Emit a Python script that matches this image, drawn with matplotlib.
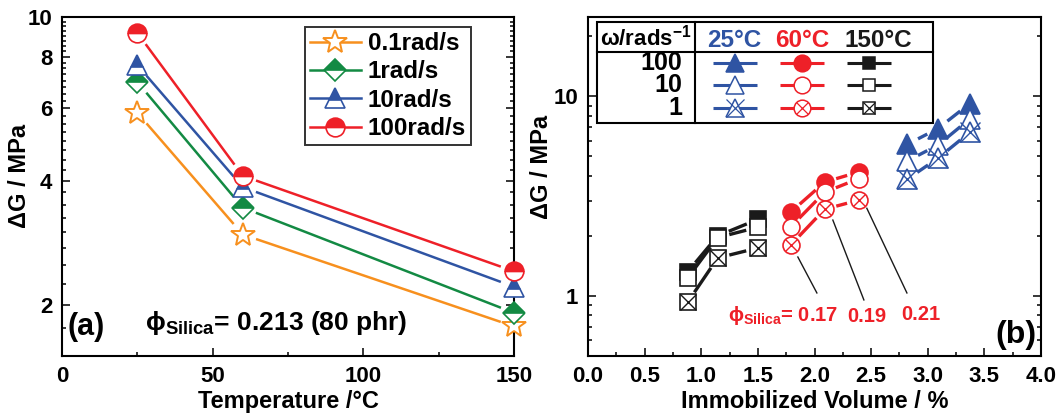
import numpy as np
import matplotlib
matplotlib.use("Agg")
import matplotlib.pyplot as plt
from matplotlib.lines import Line2D
from matplotlib.patches import Rectangle
from matplotlib.ticker import FixedLocator, NullFormatter, MultipleLocator

plt.rcParams['font.family'] = ['Liberation Sans', 'DejaVu Sans']
plt.rcParams['font.weight'] = 'bold'
plt.rcParams['mathtext.fontset'] = 'custom'
plt.rcParams['mathtext.rm'] = 'Liberation Sans:bold'
plt.rcParams['mathtext.bf'] = 'Liberation Sans:bold'
plt.rcParams['mathtext.it'] = 'Liberation Sans:bold:italic'
plt.rcParams['axes.linewidth'] = 1.5

# ---------------- data: panel (a) ----------------
temps = [25, 60, 150]
g_01 = [5.85, 2.96, 1.77]
g_1 = [6.95, 3.44, 1.91]
g_10 = [7.64, 3.86, 2.21]
g_100 = [9.15, 4.11, 2.41]
freq_labels = ['0.1rad/s', '1rad/s', '10rad/s', '100rad/s']

# ---------------- data: panel (b) ----------------
vol_25 = [2.82, 3.09, 3.37]
g25_100 = [5.75, 6.9, 9.2]
g25_10 = [4.75, 5.7, 7.7]
g25_1 = [3.85, 4.9, 6.6]

vol_60 = [1.79, 2.09, 2.39]
g60_100 = [2.63, 3.72, 4.18]
g60_10 = [2.22, 3.31, 3.87]
g60_1 = [1.80, 2.72, 3.02]

vol_150 = [0.88, 1.145, 1.50]
g150_100 = [1.32, 2.00, 2.42]
g150_10 = [1.23, 1.96, 2.21]
g150_1 = [0.93, 1.55, 1.74]

phi_labels = ['0.17', '0.19', '0.21']

ORANGE = '#F7901E'
GREEN = '#138A43'
BLUE = '#2F54A3'
RED = '#EE2028'
BLACK = '#1A1A1A'

PHI = 'ϕ'

fig = plt.figure(figsize=(10.6, 4.17), dpi=100)
axL = fig.add_axes([62 / 1060, 61 / 417, 452 / 1060, 339 / 417])
axR = fig.add_axes([588 / 1060, 61 / 417, 453 / 1060, 339 / 417])


def gap_line(ax, xs, ys, gap, **kw):
    """Connect consecutive points with segments that stop short of each marker."""
    pts = ax.transData.transform(np.column_stack([xs, ys]))
    inv = ax.transData.inverted()
    for p0, p1 in zip(pts[:-1], pts[1:]):
        d = p1 - p0
        L = np.hypot(*d)
        if L <= 2 * gap:
            continue
        u = d / L
        seg = inv.transform(np.array([p0 + u * gap, p1 - u * gap]))
        ax.plot(seg[:, 0], seg[:, 1], solid_capstyle='butt', **kw)


def style_ticks(ax):
    ax.tick_params(which='both', direction='in', top=False, right=True,
                   labelsize=16, pad=7, width=1.1)
    ax.tick_params(which='major', length=6)
    ax.tick_params(which='minor', length=3)


# ======================= panel (a) =======================
axL.set_yscale('log')
axL.set_xlim(0, 150)
axL.set_ylim(1.5, 10)
axL.set_xticks([0, 50, 100, 150])
axL.xaxis.set_minor_locator(MultipleLocator(25))
axL.set_yticks([2, 4, 6, 8, 10])
axL.set_yticklabels(['2', '4', '6', '8', '10'])
axL.yaxis.set_minor_locator(FixedLocator(np.arange(1.5, 10.01, 0.25)))
axL.yaxis.set_minor_formatter(NullFormatter())
style_ticks(axL)

series_a = [
    (g_01, ORANGE, '*', 18, 'full', 'white', 1.4),
    (g_1, GREEN, 'D', 11, 'top', GREEN, 1.2),
    (g_10, BLUE, '^', 15, 'top', BLUE, 1.2),
    (g_100, RED, 'o', 13.5, 'top', RED, 1.2),
]
handles_a = []
for (vals, col, mk, ms, fs, fc, mw), lab in zip(series_a, freq_labels):
    gap_line(axL, temps, vals, 14, color=col, lw=1.8, zorder=2)
    axL.plot(temps, vals, ls='none', marker=mk, ms=ms, mec=col, mfc=fc,
             fillstyle=fs, markerfacecoloralt='white', mew=mw,
             zorder=3, clip_on=False)
    handles_a.append(Line2D([], [], color=col, lw=1.8, marker=mk, ms=ms,
                            mec=col, mfc=fc, fillstyle=fs,
                            markerfacecoloralt='white', mew=mw))

leg = axL.legend(handles_a, freq_labels, loc='upper right',
                 bbox_to_anchor=(0.905, 0.97), fontsize=17.5, frameon=True,
                 fancybox=False, edgecolor='black', handlelength=2.1,
                 handletextpad=0.3, labelspacing=0.22, borderpad=0.2,
                 borderaxespad=0)
leg.get_frame().set_linewidth(1.4)

axL.set_xlabel('Temperature /°C', fontsize=17, fontweight='bold')
axL.set_ylabel('ΔG / MPa', fontsize=17, fontweight='bold')
axL.yaxis.set_label_coords(-0.068, 0.53)
axL.xaxis.set_label_coords(0.5, -0.10)

axL.text(0.013, 0.085, '(a)', transform=axL.transAxes, fontsize=22,
         fontweight='bold', ha='left', va='center')
axL.text(0.184, 0.097, PHI + '$_{\\mathrm{Silica}}$= 0.213 (80 phr)',
         transform=axL.transAxes, fontsize=19, fontweight='bold',
         ha='left', va='center')

# ======================= panel (b) =======================
axR.set_yscale('log')
axR.set_xlim(0, 4)
axR.set_ylim(0.5, 25)
axR.set_xticks(np.arange(0, 4.01, 0.5))
axR.set_xticklabels([f'{v:.1f}' for v in np.arange(0, 4.01, 0.5)])
axR.xaxis.set_minor_locator(MultipleLocator(0.25))
axR.set_yticks([1, 10])
axR.set_yticklabels(['1', '10'])
axR.yaxis.set_minor_locator(FixedLocator(
    [0.5, 0.6, 0.7, 0.8, 0.9, 2, 3, 4, 5, 6, 7, 8, 9, 20]))
axR.yaxis.set_minor_formatter(NullFormatter())
style_ticks(axR)

groups = [
    (vol_150, [g150_100, g150_10, g150_1], BLACK, 's', 12.2, 12.2),
    (vol_60, [g60_100, g60_10, g60_1], RED, 'o', 12.2, 8.8),
    (vol_25, [g25_100, g25_10, g25_1], BLUE, '^', 13.7, 13.7),
]
for xs, (v100, v10, v1), col, mk, ms, xs_ms in groups:
    for vals in (v100, v10, v1):
        gap_line(axR, xs, vals, 12, color=col, lw=2.4, zorder=2)
    axR.plot(xs, v100, ls='none', marker=mk, ms=ms, mec=col, mfc=col,
             mew=1.2, zorder=3)
    axR.plot(xs, v10, ls='none', marker=mk, ms=ms, mec=col, mfc='white',
             mew=1.2, zorder=4)
    axR.plot(xs, v1, ls='none', marker=mk, ms=ms, mec=col, mfc='white',
             mew=1.2, zorder=5)
    axR.plot(xs, v1, ls='none', marker='x', ms=xs_ms, mec=col,
             mew=1.0, zorder=6)

# leader lines from the 60 °C data to the silica fraction labels
lead_x = [(1.853, 2.021), (2.162, 2.436), (2.462, 2.816)]
lead_y = [(1.567, 1.035), (2.40, 0.955), (2.75, 1.035)]
for lx, ly in zip(lead_x, lead_y):
    axR.plot(lx, ly, color=BLACK, lw=1.0, zorder=2)
axR.text(1.236, 0.80, PHI + '$_{\\mathrm{Silica}}$= ' + phi_labels[0],
         color=RED, fontsize=14.5, fontweight='bold', ha='left', va='center')
axR.text(2.46, 0.785, phi_labels[1], color=RED, fontsize=14.5,
         fontweight='bold', ha='center', va='center')
axR.text(2.94, 0.81, phi_labels[2], color=RED, fontsize=14.5,
         fontweight='bold', ha='center', va='center')

axR.text(0.991, 0.062, '(b)', transform=axR.transAxes, fontsize=23,
         fontweight='bold', ha='right', va='center')

axR.set_xlabel('Immobilized Volume / %', fontsize=17, fontweight='bold')
axR.set_ylabel('ΔG / MPa', fontsize=17, fontweight='bold')
axR.yaxis.set_label_coords(-0.077, 0.557)
axR.xaxis.set_label_coords(0.5, -0.10)

# ---- key table in the upper-left corner of panel (b) ----
T = axR.transAxes
x0, x1, y0, y1 = 0.020, 0.762, 0.687, 0.985
axR.add_patch(Rectangle((x0, y0), x1 - x0, y1 - y0, transform=T,
                        facecolor='white', edgecolor='black', lw=1.5,
                        zorder=8))
axR.plot([x0, x1], [0.897, 0.897], transform=T, color='black', lw=1.5,
         zorder=9)
axR.plot([0.236, 0.236], [y0, y1], transform=T, color='black', lw=1.5,
         zorder=9)
axR.text(0.026, 0.938, 'ω/rads$^{-1}$', transform=T, fontsize=16,
         ha='left', va='center', zorder=10)
temp_labels = ['25°C', '60°C', '150°C']
col_x = [0.325, 0.472, 0.620]
head_x = [0.322, 0.472, 0.640]
key_cols = [BLUE, RED, BLACK]
key_mk = ['^', 'o', 's']
key_ms = [12.5, 12, 9]
for hx, lab, col in zip(head_x, temp_labels, key_cols):
    axR.text(hx, 0.932, lab, transform=T, fontsize=17.5, color=col,
             ha='center', va='center', zorder=10)
row_y = [0.864, 0.799, 0.732]
row_labels = ['100', '10', '1']
for ry, lab in zip(row_y, row_labels):
    axR.text(0.208, ry, lab, transform=T, fontsize=18, ha='right',
             va='center', zorder=10)
for cx, col, mk, ms in zip(col_x, key_cols, key_mk, key_ms):
    for i, ry in enumerate(row_y):
        axR.plot([cx - 0.0486, cx + 0.0486], [ry, ry], transform=T,
                 color=col, lw=2.2, zorder=10, solid_capstyle='butt')
        fc = col if i == 0 else 'white'
        axR.plot([cx], [ry], transform=T, marker=mk, ms=ms, mec=col,
                 mfc=fc, mew=1.1, ls='none', zorder=11)
        if i == 2:
            xm = ms if mk != 'o' else ms * 0.72
            axR.plot([cx], [ry], transform=T, marker='x', ms=xm, mec=col,
                     mew=0.9, ls='none', zorder=12)

fig.savefig('out.png', dpi=100)
